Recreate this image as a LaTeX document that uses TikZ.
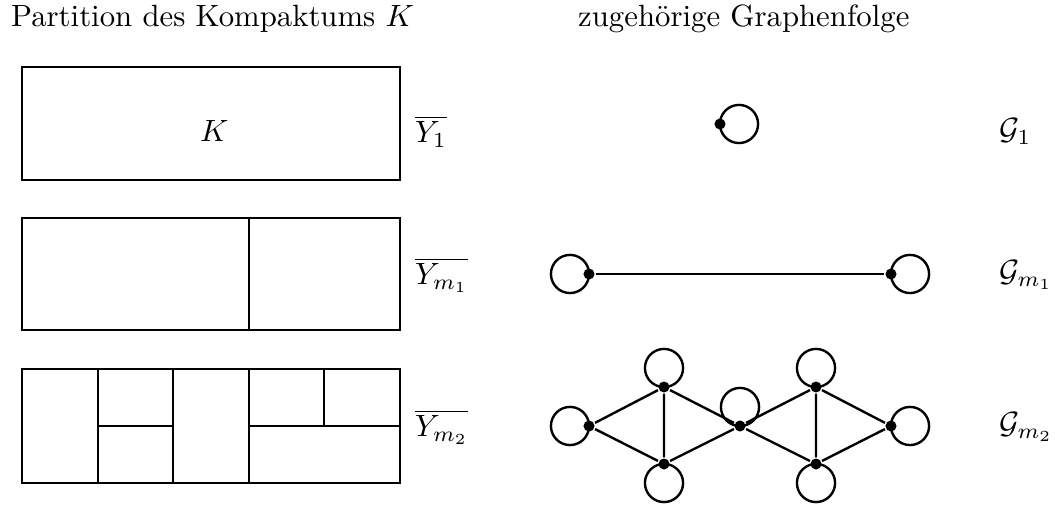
\documentclass[tikz,border=0pt]{standalone}
\usepackage{amsmath}
\begin{document}
\begin{tikzpicture}[x=0.325pt,y=-0.325pt,
  every path/.style={line width=0.78pt},
  vtx/.style={circle,fill=black,inner sep=0pt,minimum size=3.6pt},
  lbl/.style={anchor=base west,inner sep=0pt}]
\useasboundingbox (0,0) rectangle (1055,506);
% headings
\node[lbl] (h1) at (10,27) {Partition des Kompaktums $K$};
\node[lbl] (h2) at (577,27) {zugeh\"orige Graphenfolge};
% partitions
\draw (22,67) rectangle (400,180);
\node[lbl] (k) at (199,142) {$K$};
\draw (22,218) rectangle (400,330);
\draw (249,218) -- (249,330);
\draw (22,369) rectangle (400,483);
\draw (98,369) -- (98,483);
\draw (173,369) -- (173,483);
\draw (249,369) -- (249,483);
\draw (324,369) -- (324,426);
\draw (98,426) -- (173,426);
\draw (249,426) -- (400,426);
\node[lbl] (y1) at (414,143) {$\overline{Y_1}$};
\node[lbl] (ym1) at (414,285) {$\overline{Y_{m_1}}$};
\node[lbl] (ym2) at (414,437) {$\overline{Y_{m_2}}$};
% graph G1
\node[vtx] (g1) at (720,124) {};
\draw (g1) ++(19,0) circle[radius=6.2pt];
% graph Gm1
\node[vtx] (p) at (589,274) {};
\node[vtx] (q) at (891,274) {};
\draw (p) -- (q);
\draw (p) ++(-19,0) circle[radius=6.2pt];
\draw (q) ++(19,0) circle[radius=6.2pt];
% graph Gm2
\node[vtx] (a) at (589,426) {};
\node[vtx] (b) at (664,387) {};
\node[vtx] (c) at (664,464) {};
\node[vtx] (d) at (740,426) {};
\node[vtx] (e) at (816,387) {};
\node[vtx] (f) at (816,464) {};
\node[vtx] (g) at (891,426) {};
\draw (a) -- (b) (a) -- (c) (b) -- (c) (b) -- (d) (c) -- (d)
      (d) -- (e) (d) -- (f) (e) -- (f) (e) -- (g) (f) -- (g);
\draw (a) ++(-19,0) circle[radius=6.2pt];
\draw (b) ++(0,-19) circle[radius=6.2pt];
\draw (c) ++(0,19) circle[radius=6.2pt];
\draw (d) ++(0,-19) circle[radius=6.2pt];
\draw (e) ++(0,-19) circle[radius=6.2pt];
\draw (f) ++(0,19) circle[radius=6.2pt];
\draw (g) ++(19,0) circle[radius=6.2pt];
% graph labels
\node[lbl] (G1) at (998,140) {$\mathcal{G}_1$};
\node[lbl] (Gm1) at (998,282) {$\mathcal{G}_{m_1}$};
\node[lbl] (Gm2) at (998,434) {$\mathcal{G}_{m_2}$};
\end{tikzpicture}
\end{document}
